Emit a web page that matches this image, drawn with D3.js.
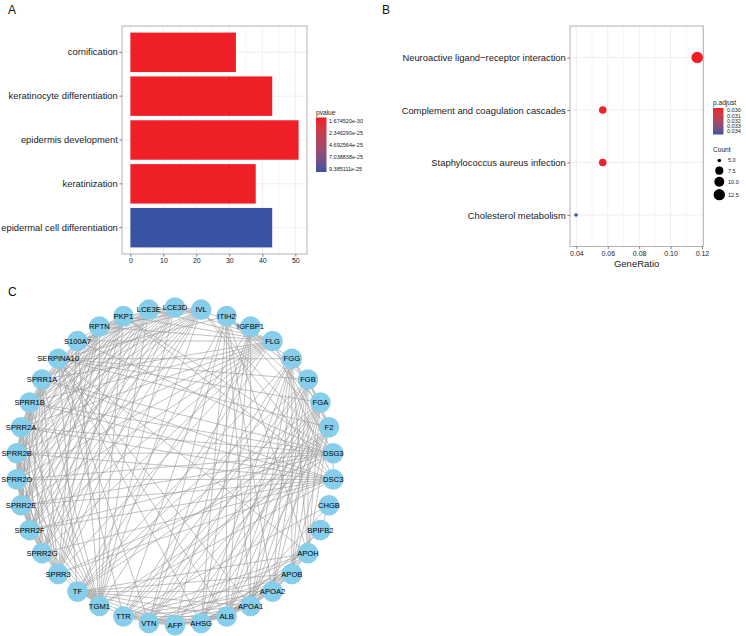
<!DOCTYPE html>
<html>
<head>
<meta charset="utf-8">
<script src="https://cdn.jsdelivr.net/npm/d3@7"></script>
<style>
body { margin: 0; background: #fff; }
svg { font-family: "Liberation Sans", Arial, Helvetica, sans-serif; }
</style>
</head>
<body>
<svg id="chart" width="746" height="636"></svg>
<script>
//----------------------------- Data
// A: GO enrichment (bar chart)
var goTerms = ["cornification", "keratinocyte differentiation", "epidermis development", "keratinization", "epidermal cell differentiation"];
var goCounts = [32, 43, 51, 38, 43];
var goPvalues = [2.1e-29, 4.6e-30, 1.674520e-30, 3.4e-28, 9.385111e-25];
var goTicks = [0, 10, 20, 30, 40, 50];
var pvalueTicks = [1.674520e-30, 2.346290e-25, 4.692564e-25, 7.038838e-25, 9.385111e-25];
var pvalueLabels = ["1.674520e-30", "2.346290e-25", "4.692564e-25", "7.038838e-25", "9.385111e-25"];

// B: KEGG enrichment (dot plot)
var keggTerms = ["Neuroactive ligand\u2212receptor interaction", "Complement and coagulation cascades", "Staphylococcus aureus infection", "Cholesterol metabolism"];
var keggRatio = [0.117, 0.0568, 0.0568, 0.0398];
var keggCounts = [13, 7, 7, 5];
var keggPadj = [0.02975, 0.0299, 0.0299, 0.0345];
var ratioTicks = [0.04, 0.06, 0.08, 0.10, 0.12];
var padjTicks = [0.030, 0.031, 0.032, 0.033, 0.034];
var countTicks = [5.0, 7.5, 10.0, 12.5];

// C: PPI network, nodes in layout order
var genes = ["AFP", "AHSG", "ALB", "APOA1", "APOA2", "APOB", "APOH", "BPIFB2", "CHGB", "DSC3",
    "DSG3", "F2", "FGA", "FGB", "FGG", "FLG", "IGFBP1", "ITIH2", "IVL", "LCE3D",
    "LCE3E", "PKP1", "RPTN", "S100A7", "SERPINA10", "SPRR1A", "SPRR1B", "SPRR2A", "SPRR2B", "SPRR2D",
    "SPRR2E", "SPRR2F", "SPRR2G", "SPRR3", "TF", "TGM1", "TTR", "VTN"];

var links = {
    SPRR1A: "SPRR1B SPRR2A SPRR2B SPRR2D SPRR2E SPRR2F SPRR2G SPRR3 IVL LCE3D LCE3E TGM1 FLG RPTN PKP1 S100A7 DSG3 DSC3",
    SPRR1B: "SPRR2A SPRR2B SPRR2D SPRR2E SPRR2F SPRR2G SPRR3 IVL LCE3D LCE3E TGM1 FLG RPTN PKP1 S100A7 DSG3 DSC3",
    SPRR2A: "SPRR2B SPRR2D SPRR2E SPRR2F SPRR2G SPRR3 IVL LCE3D LCE3E TGM1 FLG RPTN PKP1 S100A7 DSG3 DSC3",
    SPRR2B: "SPRR2D SPRR2E SPRR2F SPRR2G SPRR3 IVL LCE3D LCE3E TGM1 FLG RPTN PKP1 DSG3 DSC3",
    SPRR2D: "SPRR2E SPRR2F SPRR2G SPRR3 IVL LCE3D LCE3E TGM1 FLG RPTN PKP1 S100A7 DSG3 DSC3",
    SPRR2E: "SPRR2F SPRR2G SPRR3 IVL LCE3D LCE3E TGM1 FLG RPTN PKP1 DSG3 DSC3",
    SPRR2F: "SPRR2G SPRR3 IVL LCE3D LCE3E TGM1 FLG RPTN PKP1 DSG3 DSC3",
    SPRR2G: "SPRR3 IVL LCE3D LCE3E TGM1 FLG RPTN PKP1 DSC3",
    SPRR3: "IVL LCE3D LCE3E TGM1 FLG RPTN PKP1 S100A7 DSG3 DSC3",
    IVL: "LCE3D LCE3E TGM1 FLG RPTN PKP1 S100A7 DSG3 DSC3",
    LCE3D: "LCE3E TGM1 FLG RPTN S100A7",
    LCE3E: "TGM1 FLG RPTN",
    TGM1: "FLG RPTN PKP1 S100A7 DSG3 DSC3",
    FLG: "RPTN PKP1 S100A7 DSG3 DSC3",
    RPTN: "S100A7 PKP1",
    PKP1: "DSG3 DSC3",
    S100A7: "DSG3",
    DSG3: "DSC3",
    ALB: "AFP AHSG APOA1 APOA2 APOB APOH F2 FGA FGB FGG ITIH2 TF TTR VTN SERPINA10 IGFBP1 CHGB BPIFB2",
    APOA1: "AFP AHSG APOA2 APOB APOH F2 FGA FGB FGG ITIH2 TF TTR VTN SERPINA10 IGFBP1",
    APOA2: "AHSG APOB APOH FGA FGB FGG ITIH2 TF TTR VTN",
    APOB: "AFP AHSG APOH F2 FGA FGB FGG TF TTR VTN",
    APOH: "AHSG F2 FGA FGB FGG ITIH2 TF TTR VTN SERPINA10",
    AFP: "AHSG TF TTR VTN FGA IGFBP1 F2",
    AHSG: "F2 FGA FGB FGG ITIH2 TF TTR VTN SERPINA10 IGFBP1",
    F2: "FGA FGB FGG ITIH2 TF VTN SERPINA10 TTR",
    FGA: "FGB FGG ITIH2 TF TTR VTN SERPINA10",
    FGB: "FGG ITIH2 TF TTR VTN SERPINA10",
    FGG: "ITIH2 TF TTR VTN SERPINA10",
    ITIH2: "TF TTR VTN SERPINA10",
    TF: "TTR VTN SERPINA10 IGFBP1",
    TTR: "VTN SERPINA10 CHGB",
    VTN: "SERPINA10 IGFBP1",
    CHGB: "BPIFB2",
    BPIFB2: "APOA1"
};

//----------------------------- Setup
var svg = d3.select("#chart");
var red = "#EE1F26";
var blue = "#3953A4";
var gridCol = "#EBEBEB";
var borderCol = "#A9A9A9";
var textCol = "#1a1a1a";

function panelLabel(txt, x, y) {
    svg.append("text").attr("x", x).attr("y", y)
        .attr("font-size", "12px").attr("fill", "#111").text(txt);
}

function styleAxis(g, size) {
    g.select(".domain").remove();
    g.selectAll(".tick line").attr("stroke", "#333").attr("stroke-width", 0.6);
    g.selectAll(".tick text").attr("fill", textCol).attr("font-size", size)
        .attr("font-family", "Liberation Sans, Arial, sans-serif");
}

function colorbar(id, x, y, w, h) {
    var grad = svg.append("defs").append("linearGradient")
        .attr("id", id).attr("x1", 0).attr("y1", 0).attr("x2", 0).attr("y2", 1);
    d3.range(0, 1.0001, 0.1).forEach(function(t) {
        grad.append("stop").attr("offset", t)
            .attr("stop-color", d3.interpolateLab(red, blue)(t));
    });
    svg.append("rect").attr("x", x).attr("y", y).attr("width", w).attr("height", h)
        .attr("fill", "url(#" + id + ")");
}

//----------------------------- Panel A
panelLabel("A", 8, 14);

var aLeft = 122, aRight = 307, aTop = 26, aBottom = 254;
var maxCount = d3.max(goCounts);
var xA = d3.scaleLinear().domain([-0.05 * maxCount, maxCount * 1.05]).range([aLeft, aRight]);
var yA = d3.scaleBand().domain(goTerms).range([aTop, aBottom]).paddingInner(0.1).paddingOuter(0.15);
var pColor = d3.scaleLinear().domain(d3.extent(pvalueTicks)).range([red, blue]).interpolate(d3.interpolateLab);

var gA = svg.append("g");
// minor grid
gA.selectAll(".minor").data(d3.range(5, maxCount * 1.05, 10)).enter().append("line")
    .attr("x1", function(d) { return xA(d); }).attr("x2", function(d) { return xA(d); })
    .attr("y1", aTop).attr("y2", aBottom).attr("stroke", gridCol).attr("stroke-width", 0.4);
gA.selectAll(".major").data(goTicks).enter().append("line")
    .attr("x1", function(d) { return xA(d); }).attr("x2", function(d) { return xA(d); })
    .attr("y1", aTop).attr("y2", aBottom).attr("stroke", gridCol).attr("stroke-width", 0.8);
gA.selectAll(".hgrid").data(goTerms).enter().append("line")
    .attr("x1", aLeft).attr("x2", aRight)
    .attr("y1", function(d) { return yA(d) + yA.bandwidth() / 2; })
    .attr("y2", function(d) { return yA(d) + yA.bandwidth() / 2; })
    .attr("stroke", gridCol).attr("stroke-width", 0.8);

gA.selectAll(".bar").data(goTerms).enter().append("rect")
    .attr("x", xA(0))
    .attr("y", function(d) { return yA(d); })
    .attr("width", function(d, i) { return xA(goCounts[i]) - xA(0); })
    .attr("height", yA.bandwidth())
    .attr("fill", function(d, i) { return pColor(goPvalues[i]); });

gA.append("rect").attr("x", aLeft).attr("y", aTop)
    .attr("width", aRight - aLeft).attr("height", aBottom - aTop)
    .attr("fill", "none").attr("stroke", borderCol).attr("stroke-width", 0.9);

var axA = svg.append("g").attr("transform", "translate(0," + aBottom + ")")
    .call(d3.axisBottom(xA).tickValues(goTicks).tickSize(2.7).tickPadding(1.5));
styleAxis(axA, "7px");
var ayA = svg.append("g").attr("transform", "translate(" + aLeft + ",0)")
    .call(d3.axisLeft(yA).tickSize(2.7).tickPadding(1.5));
styleAxis(ayA, "9.4px");

// pvalue legend
svg.append("text").attr("x", 316).attr("y", 115).attr("font-size", "6.6px").attr("fill", textCol).text("pvalue");
colorbar("gradA", 316, 117.5, 10.5, 54.5);
var lyA = d3.scaleLinear().domain(d3.extent(pvalueTicks)).range([120.7, 169.3]);
svg.selectAll(".plab").data(pvalueLabels).enter().append("text")
    .attr("x", 329).attr("y", function(d, i) { return lyA(pvalueTicks[i]); })
    .attr("dy", "0.35em").attr("font-size", "5.5px").attr("fill", textCol)
    .text(function(d) { return d; });

//----------------------------- Panel B
panelLabel("B", 382, 14);

var bLeft = 570, bRight = 703.3, bTop = 26, bBottom = 246.5;
var rExt = d3.extent(keggRatio);
var rPad = (rExt[1] - rExt[0]) * 0.05;
var xB = d3.scaleLinear().domain([rExt[0] - rPad, rExt[1] + rPad]).range([bLeft, bRight]);
var yB = d3.scalePoint().domain(keggTerms).range([bTop, bBottom]).padding(0.6);
var padjColor = d3.scaleLinear().domain(d3.extent(keggPadj)).range([red, blue]).interpolate(d3.interpolateLab);
var cExt = d3.extent(keggCounts);
var rSize = d3.scaleLinear().domain([0, 1]).range([1.8, 5.8]);
function dotR(c) { return rSize(Math.sqrt((c - cExt[0]) / (cExt[1] - cExt[0]))); }

var gB = svg.append("g");
gB.selectAll(".minor").data([0.05, 0.07, 0.09, 0.11]).enter().append("line")
    .attr("x1", function(d) { return xB(d); }).attr("x2", function(d) { return xB(d); })
    .attr("y1", bTop).attr("y2", bBottom).attr("stroke", gridCol).attr("stroke-width", 0.4);
gB.selectAll(".major").data(ratioTicks).enter().append("line")
    .attr("x1", function(d) { return xB(d); }).attr("x2", function(d) { return xB(d); })
    .attr("y1", bTop).attr("y2", bBottom).attr("stroke", gridCol).attr("stroke-width", 0.8);
gB.selectAll(".hgrid").data(keggTerms).enter().append("line")
    .attr("x1", bLeft).attr("x2", bRight)
    .attr("y1", function(d) { return yB(d); }).attr("y2", function(d) { return yB(d); })
    .attr("stroke", gridCol).attr("stroke-width", 0.8);

gB.selectAll(".dot").data(keggTerms).enter().append("circle")
    .attr("cx", function(d, i) { return xB(keggRatio[i]); })
    .attr("cy", function(d) { return yB(d); })
    .attr("r", function(d, i) { return dotR(keggCounts[i]); })
    .attr("fill", function(d, i) { return padjColor(keggPadj[i]); });

gB.append("rect").attr("x", bLeft).attr("y", bTop)
    .attr("width", bRight - bLeft).attr("height", bBottom - bTop)
    .attr("fill", "none").attr("stroke", borderCol).attr("stroke-width", 0.9);

var axB = svg.append("g").attr("transform", "translate(0," + bBottom + ")")
    .call(d3.axisBottom(xB).tickValues(ratioTicks).tickFormat(d3.format(".2f")).tickSize(2.7).tickPadding(1.5));
styleAxis(axB, "7px");
var ayB = svg.append("g").attr("transform", "translate(" + bLeft + ",0)")
    .call(d3.axisLeft(yB).tickSize(2.7).tickPadding(1.5));
styleAxis(ayB, "9.4px");

svg.append("text").attr("x", (bLeft + bRight) / 2).attr("y", 266.5)
    .attr("text-anchor", "middle").attr("font-size", "9.5px").attr("fill", textCol).text("GeneRatio");

// p.adjust legend
svg.append("text").attr("x", 713).attr("y", 105).attr("font-size", "6.6px").attr("fill", textCol).text("p.adjust");
colorbar("gradB", 713, 108, 10.5, 26.5);
var lyB = d3.scaleLinear().domain(d3.extent(keggPadj)).range([109.3, 133.2]);
svg.selectAll(".padjlab").data(padjTicks).enter().append("text")
    .attr("x", 727).attr("y", function(d) { return lyB(d); })
    .attr("dy", "0.35em").attr("font-size", "5.5px").attr("fill", textCol)
    .text(function(d) { return d3.format(".3f")(d); });

// Count legend
svg.append("text").attr("x", 713).attr("y", 152).attr("font-size", "6.6px").attr("fill", textCol).text("Count");
var ky = 155.5;
countTicks.forEach(function(c) {
    var r = dotR(c);
    var kh = Math.max(10, 2 * r + 2.2);
    svg.append("circle").attr("cx", 719.3).attr("cy", ky + kh / 2).attr("r", r).attr("fill", "#000");
    svg.append("text").attr("x", 728).attr("y", ky + kh / 2).attr("dy", "0.35em")
        .attr("font-size", "5.5px").attr("fill", textCol).text(d3.format(".1f")(c));
    ky += kh;
});

//----------------------------- Panel C
panelLabel("C", 8, 296);

var cx = 175, cy = 466.3, rad = 158.8;
var angle = d3.scaleLinear().domain([0, genes.length]).range([0, 2 * Math.PI]);
var pos = {};
genes.forEach(function(g, i) {
    pos[g] = { x: cx + rad * Math.sin(angle(i)), y: cy + rad * Math.cos(angle(i)) };
});

var edges = [];
Object.keys(links).forEach(function(a) {
    links[a].split(" ").forEach(function(b) { edges.push([a, b]); });
});

var gC = svg.append("g");
gC.selectAll(".edge").data(edges).enter().append("line")
    .attr("x1", function(d) { return pos[d[0]].x; }).attr("y1", function(d) { return pos[d[0]].y; })
    .attr("x2", function(d) { return pos[d[1]].x; }).attr("y2", function(d) { return pos[d[1]].y; })
    .attr("stroke", "#999").attr("stroke-width", 0.6);

gC.selectAll(".node").data(genes).enter().append("circle")
    .attr("cx", function(d) { return pos[d].x; }).attr("cy", function(d) { return pos[d].y; })
    .attr("r", 10.3).attr("fill", "#87CEEB");

gC.selectAll(".nlab").data(genes).enter().append("text")
    .attr("x", function(d) { return pos[d].x; }).attr("y", function(d) { return pos[d].y; })
    .attr("dy", "0.35em").attr("text-anchor", "middle")
    .attr("font-size", "7.6px").attr("fill", "#000")
    .text(function(d) { return d; });
</script>
</body>
</html>
